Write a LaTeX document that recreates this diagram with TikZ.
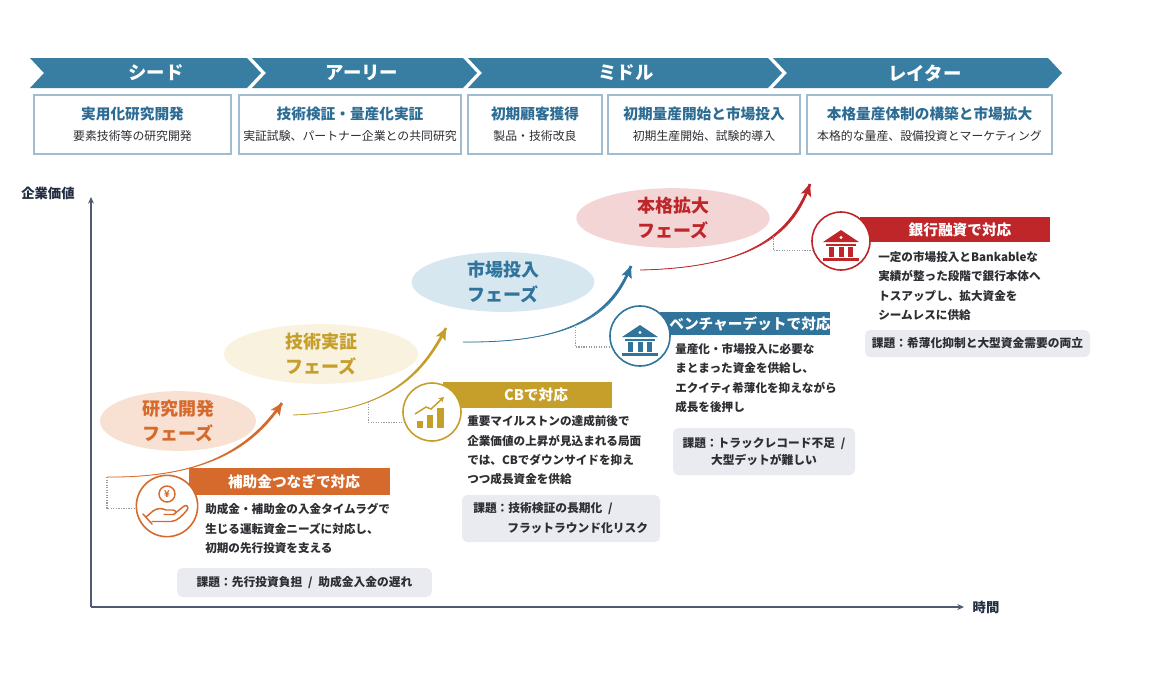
\documentclass[tikz,border=0pt]{standalone}
\usepackage{fontspec}
\setmainfont{Noto Sans CJK JP}
\usetikzlibrary{arrows.meta,calc,shapes.geometric}

\definecolor{banner}{RGB}{56,125,162}
\definecolor{boxline}{RGB}{160,188,206}
\definecolor{stageblue}{RGB}{44,108,148}
\definecolor{textdark}{RGB}{45,45,50}
\definecolor{axiscol}{RGB}{80,90,112}
\definecolor{labdark}{RGB}{35,45,65}
\definecolor{ocol}{RGB}{214,106,44}
\definecolor{ofill}{RGB}{248,225,211}
\definecolor{gcol}{RGB}{198,158,42}
\definecolor{gfill}{RGB}{248,242,222}
\definecolor{bcol}{RGB}{48,116,156}
\definecolor{bfill}{RGB}{214,231,240}
\definecolor{rcol}{RGB}{190,38,42}
\definecolor{rfill}{RGB}{244,213,214}
\definecolor{issuegray}{RGB}{233,235,240}
\definecolor{dotgray}{RGB}{150,155,165}

\newcommand\taperarrow[5]{%
  \fill[#1] (#2) .. controls (#3) and ($(#4)!1.05pt!90:(#5)$) .. ($(#5)!1.05pt!-90:(#4)$)
     -- ($(#5)!1.05pt!90:(#4)$) .. controls ($(#4)!1.05pt!-90:(#5)$) and (#3) .. (#2) -- cycle;
  \draw[#1, line width=0.6pt, -{Stealth[length=9pt,width=8pt,inset=2pt]}] (#2) .. controls (#3) and (#4) .. (#5);
}
\newcommand\bankicon[1]{%
  \fill[#1] (-18,1) -- (0,-11) -- (18,1) -- cycle;
  \fill[white] (0,-3.5) circle[radius=1.3pt];
  \fill[#1] (-15,3) rectangle (15,5);
  \fill[#1] (-12,6) rectangle (-7,16);
  \fill[#1] (-2.5,6) rectangle (2.5,16);
  \fill[#1] (7,6) rectangle (12,16);
  \fill[#1] (-18,17) rectangle (18,20);
}
\newcommand\slashsep{\hspace{0.5em}/\hspace{0.5em}}

\tikzset{
  chevtext/.style={text=white, inner sep=0pt, font=\fontsize{13.8}{15}\selectfont\bfseries},
  stagebox/.style={draw=boxline, line width=0.8pt, fill=white},
  stagetitle/.style={text=stageblue, inner sep=0pt, font=\fontsize{11}{12}\selectfont\bfseries},
  stagesub/.style={text=textdark, inner sep=0pt, font=\fontsize{8.9}{10}\selectfont},
  phase/.style={ellipse, inner sep=0pt, align=center, font=\fontsize{13.5}{19}\selectfont\bfseries},
  iconc/.style={circle, fill=white, line width=1.2pt, inner sep=0pt},
  bartext/.style={text=white, inner sep=0pt, font=\fontsize{11}{13}\selectfont\bfseries},
  body/.style={anchor=north west, inner sep=0pt, align=left, text=textdark, font=\fontsize{8.7}{14.4}\selectfont\bfseries},
  issue/.style={fill=issuegray, rounded corners=4pt, inner sep=0pt, align=center, text=textdark, font=\fontsize{8.8}{13}\selectfont\bfseries},
  issuetext/.style={text=textdark, inner sep=0pt, font=\fontsize{8.8}{13}\selectfont\bfseries},
  dotline/.style={draw=dotgray, densely dotted, line width=0.9pt},
  axis/.style={draw=axiscol, line width=1.3pt, -{Stealth[length=5pt,width=4.5pt]}},
  axlab/.style={text=labdark, inner sep=0pt, font=\fontsize{10}{12}\selectfont\bfseries},
}

\begin{document}
\begin{tikzpicture}[x=0.75pt,y=-0.75pt]
\useasboundingbox (0,0) rectangle (1150,679);
\fill[white] (0,0) rectangle (1150,679);

% ---------- stage chevrons ----------
\fill[banner] (30,58) -- (247,58) -- (261,73) -- (247,88) -- (30,88) -- (44,73) -- cycle;
\fill[banner] (252,58) -- (463,58) -- (477,73) -- (463,88) -- (252,88) -- (266,73) -- cycle;
\fill[banner] (468,58) -- (768,58) -- (782,73) -- (768,88) -- (468,88) -- (482,73) -- cycle;
\fill[banner] (773,58) -- (1048,58) -- (1062,73) -- (1048,88) -- (773,88) -- (787,73) -- cycle;
\node[chevtext] (c1) at (156,73) {シード};
\node[chevtext] (c2) at (362,73) {アーリー};
\node[chevtext] (c3) at (626,73) {ミドル};
\node[chevtext] (c4) at (925,73) {レイター};

% ---------- stage boxes ----------
\draw[stagebox] (34,95) rectangle (231,154);
\draw[stagebox] (239,95) rectangle (461,154);
\draw[stagebox] (468,95) rectangle (602,154);
\draw[stagebox] (608,95) rectangle (800,154);
\draw[stagebox] (807,95) rectangle (1052,154);
\node[stagetitle] (t1) at (132.5,114) {実用化研究開発};
\node[stagesub] (s1) at (132.5,136) {要素技術等の研究開発};
\node[stagetitle] (t2) at (350,114) {技術検証・量産化実証};
\node[stagesub] (s2) at (350,136) {実証試験、パートナー企業との共同研究};
\node[stagetitle] (t3) at (535,114) {初期顧客獲得};
\node[stagesub] (s3) at (535,136) {製品・技術改良};
\node[stagetitle] (t4) at (704,114) {初期量産開始と市場投入};
\node[stagesub] (s4) at (704,136) {初期生産開始、試験的導入};
\node[stagetitle] (t5) at (929.5,114) {本格量産体制の構築と市場拡大};
\node[stagesub] (s5) at (929.5,136) {本格的な量産、設備投資とマーケティング};

% ---------- axes ----------
\coordinate (O) at (91,607);
\coordinate (ytop) at (91,197);
\coordinate (xend) at (964,607);
\node[axlab] (ylab) at (48,193) {企業価値};
\node[axlab] (xlab) at (986,607) {時間};
\draw[axis] (O) -- (ytop);
\draw[axis] (O) -- (xend);

% ---------- phase bubbles ----------
\node[phase, fill=ofill, text=ocol, minimum width=117pt, minimum height=43.5pt] (p1) at (178,421) {研究開発\\フェーズ};
\node[phase, fill=gfill, text=gcol, minimum width=145.5pt, minimum height=43.5pt] (p2) at (321,354) {技術実証\\フェーズ};
\node[phase, fill=bfill, text=bcol, minimum width=137pt, minimum height=41.5pt] (p3) at (503,282) {市場投入\\フェーズ};
\node[phase, fill=rfill, text=rcol, minimum width=145pt, minimum height=41.5pt] (p4) at (673,218) {本格拡大\\フェーズ};

% ---------- growth curves ----------
\coordinate (oS) at (107,477); \coordinate (oC1) at (200,478); \coordinate (oC2) at (250,450); \coordinate (oE) at (282,403);
\coordinate (gS) at (293,415); \coordinate (gC1) at (380,412); \coordinate (gC2) at (420,380); \coordinate (gE) at (446,328);
\coordinate (bS) at (463,342); \coordinate (bC1) at (560,343); \coordinate (bC2) at (610,320); \coordinate (bE) at (631,266);
\coordinate (rS) at (640,270); \coordinate (rC1) at (740,268); \coordinate (rC2) at (790,240); \coordinate (rE) at (810,184);
\taperarrow{ocol}{oS}{oC1}{oC2}{oE}
\taperarrow{gcol}{gS}{gC1}{gC2}{gE}
\taperarrow{bcol}{bS}{bC1}{bC2}{bE}
\taperarrow{rcol}{rS}{rC1}{rC2}{rE}
\path (gS) .. controls (gC1) and (gC2) .. (gE) coordinate[pos=0.35] (gD);
\path (bS) .. controls (bC1) and (bC2) .. (bE) coordinate[pos=0.5] (bD);
\path (rS) .. controls (rC1) and (rC2) .. (rE) coordinate[pos=0.62] (rD);

% ---------- header bars ----------
\fill[ocol] (189,468) rectangle (390,495);
\fill[gcol] (443,382) rectangle (612,408);
\fill[bcol] (660,312) rectangle (830,335);
\fill[rcol] (860,217) rectangle (1050,242);
\node[bartext] (h1) at (294,481.5) {補助金つなぎで対応};
\node[bartext] (h2) at (536,395) {CBで対応};
\node[bartext] (h3) at (750,323.5) {ベンチャーデットで対応};
\node[bartext] (h4) at (960,229.5) {銀行融資で対応};

% ---------- icon circles ----------
\node[iconc, draw=ocol, minimum size=46pt] (oI) at (167,506) {};
\node[iconc, draw=gcol, minimum size=43.5pt] (gI) at (432,412) {};
\node[iconc, draw=bcol, minimum size=45pt] (bI) at (640,336) {};
\node[iconc, draw=rcol, minimum size=43.5pt] (rI) at (841,241) {};

% dotted links from curves to icons
\draw[dotline] (oS) |- (oI.185);
\draw[dotline] (gD) |- (gI.200);
\draw[dotline] (bD) |- (bI.201);
\draw[dotline] (rD) |- (rI.198);

% yen + hand icon
\begin{scope}[shift={(oI.center)}]
  \draw[ocol, line width=1.1pt] (0,-12) circle[radius=6pt];
  \node[text=ocol, inner sep=0pt, font=\fontsize{7}{8}\selectfont\bfseries] (yen) at (0,-12) {¥};
  \draw[ocol, line width=1.1pt, line join=round, line cap=round]
    (-21,11) -- (-14,5) .. controls (-10,2) and (-5,2) .. (-1,4) -- (6,4) .. controls (9.5,4) and (9.5,8.5) .. (6,8.5) -- (-3,8.5);
  \draw[ocol, line width=1.1pt, line join=round, line cap=round]
    (-15,15.5) -- (4,15.5) .. controls (10,15.5) and (16,9) .. (20,4) .. controls (22.5,1) and (19.5,-2) .. (16.5,0.5) -- (9,6.5);
  \draw[ocol, line width=1.1pt, line cap=round] (-24,8) -- (-15,18);
\end{scope}

% chart icon
\begin{scope}[shift={(gI.center)}]
  \fill[gcol] (-15,9) rectangle (-9,16);
  \fill[gcol] (-5,3) rectangle (1,16);
  \fill[gcol] (5,-4) rectangle (12,16);
  \draw[gcol, line width=1.1pt, -{Stealth[length=4pt,width=4.5pt]}] (-17,2) -- (-6,-5) -- (-1,-3) -- (12,-15);
\end{scope}

% bank icons
\begin{scope}[shift={(bI.center)}]
  \bankicon{bcol}
\end{scope}
\begin{scope}[shift={(rI.center)}]
  \bankicon{rcol}
\end{scope}

% ---------- body texts ----------
\node[body] (d1) at (205,503.5) {助成金・補助金の入金タイムラグで\\生じる運転資金ニーズに対応し、\\初期の先行投資を支える};
\node[body] (d2) at (467,415.5) {重要マイルストンの達成前後で\\企業価値の上昇が見込まれる局面\\では、CBでダウンサイドを抑え\\つつ成長資金を供給};
\node[body] (d3) at (675,343.5) {量産化・市場投入に必要な\\まとまった資金を供給し、\\エクイティ希薄化を抑えながら\\成長を後押し};
\node[body] (d4) at (878,251.5) {一定の市場投入とBankableな\\実績が整った段階で銀行本体へ\\トスアップし、拡大資金を\\シームレスに供給};

% ---------- issue boxes ----------
\node[issue, minimum width=191pt, minimum height=21.75pt] (i1) at (304.5,582.5) {課題：先行投資負担\slashsep{}助成金入金の遅れ};
\node[issue, minimum width=148.5pt, minimum height=35.25pt] (i2) at (561,518.5) {};
\node[issuetext, anchor=west] (i2a) at (473,509) {課題：技術検証の長期化\slashsep{}};
\node[issuetext, anchor=west] (i2b) at (507,528) {フラットラウンド化リスク};
\node[issue, minimum width=136.5pt, minimum height=35.25pt] (i3) at (764,451.5) {課題：トラックレコード不足\slashsep{}\\大型デットが難しい};
\node[issue, minimum width=168.75pt, minimum height=20.25pt] (i4) at (977.5,343.5) {課題：希薄化抑制と大型資金需要の両立};

\end{tikzpicture}
\end{document}
